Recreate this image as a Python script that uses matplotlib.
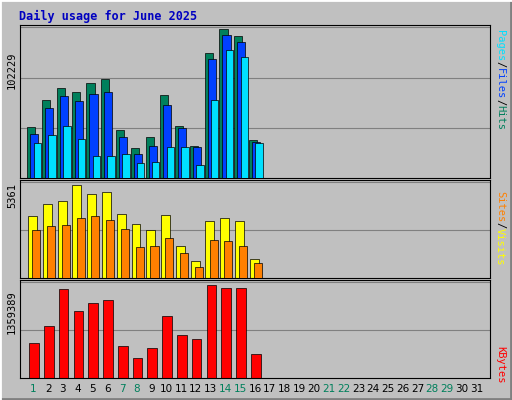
import matplotlib
matplotlib.use("Agg")
import matplotlib.pyplot as plt
import numpy as np

title = "Daily usage for June 2025"
days = list(range(1, 32))
weekend = [1, 7, 8, 14, 15, 21, 22, 28, 29]
hits = [34300,52830,61060,58320,64490,67240,32250,20580,27440,56260,34990,21960,84390,100860,96050,25390]
files = [29500,47340,55570,52140,56950,58320,27440,16470,21960,49400,33620,21270,80270,96740,91940,24010]
pages = [23330,28820,34990,26070,15090,15090,16470,10290,10980,21270,21270,8920,52830,86450,81650,23330]
visits = [3442,4119,4289,5192,4684,4797,3555,2991,2652,3499,1806,959,3160,3329,3160,1072]
sites = [2652,2878,2934,3329,3442,3217,2709,1749,1806,2257,1411,621,2144,2088,1806,846]
kbytes = [500800,729800,1259200,944400,1058900,1101800,457900,286200,429300,872800,615300,558100,1316400,1273500,1273500,343400]
max_top, max_mid, max_bot = 102229, 5361, 1359389

W, H = 512, 400
fig = plt.figure(figsize=(W/100, H/100), dpi=100, facecolor="#C0C0C0")
bg = fig.add_axes([0, 0, 1, 1]); bg.set_xlim(0, W); bg.set_ylim(H, 0); bg.axis("off")
bg.plot([0, W-1, W-1], [H-1, H-1, 0], color="#808080", lw=2)
bg.plot([0, 0, W], [H, 0, 0], color="white", lw=2)
bg.text(19, 16, title, color="#0000C0", fontsize=8.5, fontweight="bold", family="DejaVu Sans Mono", va="center")

def panel(y0, y1):
    ax = fig.add_axes([20/W, 1-y1/H, 470/W, (y1-y0)/H])
    ax.set_facecolor("#C0C0C0")
    ax.set_xlim(0.1, 31.9)
    for s in ax.spines.values():
        s.set_color("black"); s.set_linewidth(0.8)
    ax.set_xticks([]); ax.set_yticks([])
    return ax

fam = "DejaVu Sans Mono"
d = np.arange(1, 17)

ax1 = panel(25, 178)
ax1.set_ylim(0, max_top * 1.012)
for g in [0.33, 0.66, 1.0]:
    ax1.axhline(max_top*g, color="#808080", lw=0.8, zorder=0)
ax1.bar(d-0.13, hits, 0.55, color="#00805C", edgecolor="black", lw=0.5, zorder=2)
ax1.bar(d+0.07, files, 0.55, color="#0040FF", edgecolor="black", lw=0.5, zorder=3)
ax1.bar(d+0.27, pages, 0.5, color="#00E0FF", edgecolor="black", lw=0.5, zorder=4)

ax2 = panel(180, 278)
ax2.set_ylim(0, max_mid * 1.02)
for g in [0.5, 1.0]:
    ax2.axhline(max_mid*g, color="#808080", lw=0.8, zorder=0)
ax2.bar(d-0.05, visits, 0.6, color="#FFFF00", edgecolor="black", lw=0.5, zorder=2)
ax2.bar(d+0.2, sites, 0.55, color="#FF8000", edgecolor="black", lw=0.5, zorder=3)

ax3 = panel(280, 378)
ax3.set_ylim(0, max_bot * 1.02)
for g in [0.5, 1.0]:
    ax3.axhline(max_bot*g, color="#808080", lw=0.8, zorder=0)
ax3.bar(d+0.05, kbytes, 0.65, color="#FF0000", edgecolor="black", lw=0.5, zorder=2)

for day in days:
    x = 20 + (day - 0.1) / 31.8 * 470
    bg.text(x, 389, str(day), ha="center", va="center", fontsize=7.5, family="DejaVu Sans",
            color="#00805C" if day in weekend else "black")

for y, s in [(70, str(max_top)), (195, str(max_mid)), (312, str(max_bot))]:
    bg.text(12, y, s, rotation=90, ha="center", va="center", fontsize=7.5, family=fam)

def rlabel(yc, parts):
    total = sum(len(t) for t, _ in parts)
    cw = 6.2
    y = yc - total*cw/2
    for t, c in parts:
        bg.text(500, y, t, rotation=270, ha="center", va="top", fontsize=7.5, family=fam, color=c)
        y += len(t)*cw

rlabel(80, [("Pages", "#00E0FF"), ("/", "black"), ("Files", "#0040FF"), ("/", "black"), ("Hits", "#00805C")])
rlabel(228, [("Sites", "#FF8000"), ("/", "black"), ("Visits", "#FFFF00")])
rlabel(365, [("KBytes", "#FF0000")])

fig.savefig("out.png", dpi=100, facecolor=fig.get_facecolor())
